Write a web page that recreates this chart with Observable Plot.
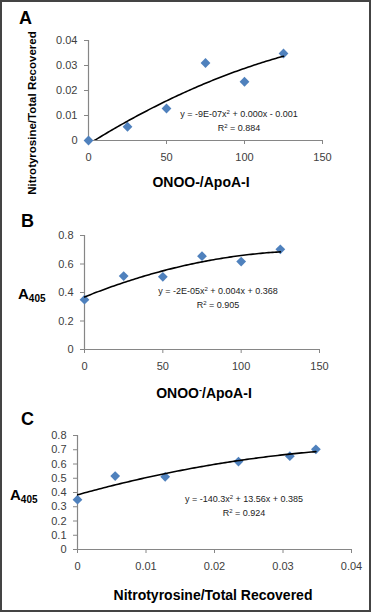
<!DOCTYPE html>
<html>
<head>
<meta charset="utf-8">
<script src="https://cdn.jsdelivr.net/npm/d3@7"></script>
<script src="https://cdn.jsdelivr.net/npm/@observablehq/plot@0.6"></script>
<style>
  html, body { margin: 0; padding: 0; background: #fff; }
  #fig { position: relative; width: 373px; height: 613px; font-family: "Liberation Sans", Arial, sans-serif; overflow: hidden; }
  #frame { position: absolute; left: 0; top: 0; width: 371px; height: 612px; box-sizing: border-box; border: 2px solid #444; pointer-events: none; }
  .plot { position: absolute; left: 0; }
  .lbl { position: absolute; white-space: nowrap; line-height: 1; color: #000; }
  .letter { font-weight: bold; font-size: 18px; }
  .xt { font-weight: bold; font-size: 14px; transform: translate(-50%, -50%); }
  .yt { font-weight: bold; font-size: 11.5px; transform: translate(-50%, -50%) rotate(-90deg); }
  .a405 { font-weight: bold; font-size: 15px; transform: translate(0, -50%); }
  .a405 sub { font-size: 10px; vertical-align: -3px; }
  .eq { font-size: 9px; color: #222; text-align: center; transform: translate(-50%, -50%); line-height: 12px; }
  .eq sup { font-size: 6px; vertical-align: 3px; }
</style>
</head>
<body>
<div id="fig"></div>
<script>
// ---- data ----
const ratio = [0, 25, 50, 75, 100, 125];                          // ONOO-/ApoA-I
const nitro = [0, 0.0055, 0.0128, 0.031, 0.0235, 0.0348];         // Nitrotyrosine/Total Recovered
const a405  = [0.35, 0.515, 0.51, 0.655, 0.617, 0.703];           // A405

const ticksRatio = [0, 50, 100, 150];
const ticksNitro = [0, 0.01, 0.02, 0.03, 0.04];
const ticksA405B = [0, 0.2, 0.4, 0.6, 0.8];
const ticksA405C = [0, 0.1, 0.2, 0.3, 0.4, 0.5, 0.6, 0.7, 0.8];

const eqA = ["y = -9E-07x", " + 0.000x - 0.001", "0.884"];
const eqB = ["y = -2E-05x", " + 0.004x + 0.368", "0.905"];
const eqC = ["y = -140.3x", " + 13.56x + 0.385", "0.924"];

// ---- quadratic least-squares trendline (as Excel's polynomial trendline) ----
function quadFit(xs, ys) {
  const n = xs.length;
  let s = [0,0,0,0,0], t = [0,0,0];
  for (let i = 0; i < n; i++) {
    const x = xs[i], y = ys[i];
    for (let k = 0; k < 5; k++) s[k] += Math.pow(x, k);
    for (let k = 0; k < 3; k++) t[k] += y * Math.pow(x, k);
  }
  const M = [[s[0], s[1], s[2], t[0]], [s[1], s[2], s[3], t[1]], [s[2], s[3], s[4], t[2]]];
  for (let c = 0; c < 3; c++) {
    let p = c;
    for (let r = c + 1; r < 3; r++) if (Math.abs(M[r][c]) > Math.abs(M[p][c])) p = r;
    [M[c], M[p]] = [M[p], M[c]];
    for (let r = 0; r < 3; r++) if (r !== c) {
      const f = M[r][c] / M[c][c];
      for (let k = c; k < 4; k++) M[r][k] -= f * M[c][k];
    }
  }
  const b = M.map((row, i) => row[3] / row[i]);
  return x => b[0] + b[1] * x + b[2] * x * x;
}
function trend(xs, ys) {
  const f = quadFit(xs, ys);
  const lo = d3.min(xs), hi = d3.max(xs);
  return d3.range(0, 101).map(i => { const x = lo + (hi - lo) * i / 100; return {x, y: f(x)}; });
}

const axisGrey = "#868686";
const blue = "#4F81BD";
const fmt = d => String(d);

function panel({xs, ys, xDomain, yDomain, xTicks, yTicks, mL, mR, mT, mB, h}) {
  const pts = xs.map((x, i) => ({x, y: ys[i]}));
  return Plot.plot({
    width: 373, height: h,
    marginLeft: mL, marginRight: mR, marginTop: mT, marginBottom: mB,
    style: {fontFamily: "'Liberation Sans', Arial, sans-serif", fontSize: "11px", background: "transparent", overflow: "visible"},
    x: {domain: xDomain, ticks: xTicks},
    y: {domain: yDomain, ticks: yTicks},
    marks: [
      Plot.axisX({ticks: xTicks, tickFormat: fmt, tickSize: 4, tickPadding: 9, stroke: axisGrey, fill: "#404040", label: null}),
      Plot.axisY({ticks: yTicks, tickFormat: fmt, tickSize: 4, tickPadding: 7, stroke: axisGrey, fill: "#404040", label: null}),
      Plot.ruleY([yDomain[0]], {stroke: axisGrey, strokeWidth: 1.2}),
      Plot.ruleX([xDomain[0]], {stroke: axisGrey, strokeWidth: 1.2}),
      Plot.dot(pts, {x: "x", y: "y", symbol: "square", rotate: 45, r: 3.9, fill: blue, stroke: "none"}),
      Plot.line(trend(xs, ys), {x: "x", y: "y", stroke: "#000", strokeWidth: 1.6, clip: true})
    ]
  });
}

const fig = document.getElementById("fig");
function place(svg, top) { svg.classList.add("plot"); svg.style.top = top + "px"; fig.appendChild(svg); }

place(panel({xs: ratio, ys: nitro, xDomain: [0, 150], yDomain: [0, 0.04], xTicks: ticksRatio, yTicks: ticksNitro,
  mL: 88, mR: 51, mT: 40, mB: 35, h: 175}), 0);
place(panel({xs: ratio, ys: a405, xDomain: [0, 150], yDomain: [0, 0.8], xTicks: ticksRatio, yTicks: ticksA405B,
  mL: 84, mR: 54, mT: 45, mB: 41, h: 200}), 190);
place(panel({xs: nitro, ys: a405, xDomain: [0, 0.04], yDomain: [0, 0.8], xTicks: ticksNitro, yTicks: ticksA405C,
  mL: 77, mR: 22, mT: 45, mB: 41, h: 200}), 390);

function label(cls, html, left, top) {
  const d = document.createElement("div");
  d.className = "lbl " + cls; d.innerHTML = html;
  d.style.left = left + "px"; d.style.top = top + "px";
  fig.appendChild(d);
}
label("letter", "A", 19, 9);
label("letter", "B", 21, 212);
label("letter", "C", 21, 410);
label("yt", "Nitrotyrosine/Total Recovered", 33, 113);
label("xt", "ONOO-/ApoA-I", 201, 182);
label("xt", "ONOO<sup style='font-size:9px;vertical-align:5px'>-</sup>/ApoA-I", 204, 393);
label("xt", "Nitrotyrosine/Total Recovered", 213, 595);
label("a405", "A<sub>405</sub>", 18, 295);
label("a405", "A<sub>405</sub>", 10, 496);
const eqHtml = e => `${e[0]}<sup>2</sup>${e[1]}<br>R<sup>2</sup> = ${e[2]}`;
label("eq", eqHtml(eqA), 239, 120);
label("eq", eqHtml(eqB), 218, 297);
label("eq", eqHtml(eqC), 244, 505);

const frame = document.createElement("div"); frame.id = "frame"; fig.appendChild(frame);
</script>
</body>
</html>
